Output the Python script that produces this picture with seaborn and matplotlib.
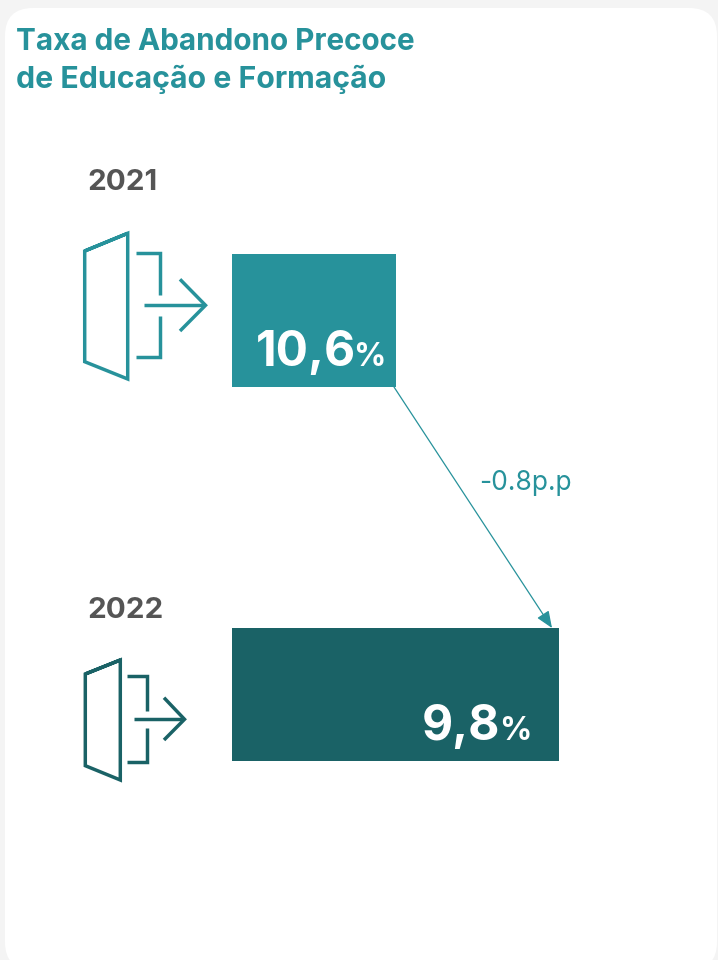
import matplotlib
matplotlib.use("Agg")
import matplotlib.pyplot as plt
from matplotlib.patches import FancyBboxPatch
import pandas as pd
import seaborn as sns

years = ["2021", "2022"]
rates = ["10,6", "9,8"]
bar_span = [1.0, 2.0]
bar_colors = ["#27929B", "#1A6266"]
title_lines = ["Taxa de Abandono Precoce", "de Educação e Formação"]
delta_label = "-0.8p.p"

FONT = ["Inter", "DejaVu Sans"]
W, H = 718, 960
sns.set_theme(style="white")
plt.rcParams["font.family"] = FONT

fig = plt.figure(figsize=(W / 100, H / 100), dpi=100, facecolor="#F4F4F4")

bg = fig.add_axes([0, 0, 1, 1], zorder=0)
bg.set_xlim(0, W)
bg.set_ylim(H, 0)
bg.axis("off")
bg.add_patch(FancyBboxPatch((5 + 28, 8 + 28), 712 - 56, 962 - 56,
                            boxstyle="round,pad=28,rounding_size=28",
                            fc="white", ec="none", clip_on=True))

# Bars: axes box 232..559 px across, 254..761 px down
ax = fig.add_axes([232 / W, 1 - 761 / H, 327 / W, 507 / H], zorder=1)
df = pd.DataFrame({"ano": years, "span": bar_span})
band = 133 / 374
sns.barplot(data=df, x="span", y="ano", hue="ano", palette=bar_colors,
            legend=False, orient="h", width=band, dodge=False, saturation=1,
            linewidth=0, ax=ax)
ax.set_xlim(0, 2)
ax.set_ylim(1 + band / 2, -band / 2)
ax.axis("off")
ax.patch.set_alpha(0)

ov = fig.add_axes([0, 0, 1, 1], zorder=2)
ov.set_xlim(0, W)
ov.set_ylim(H, 0)
ov.axis("off")
ov.patch.set_alpha(0)


def icon(door, top, bottom, shaft, head, color):
    kw = dict(color=color, lw=2.5, solid_joinstyle="miter", solid_capstyle="butt")
    for pts in (door + door[:2], top, bottom, shaft, head):
        xs, ys = zip(*pts)
        ov.plot(xs, ys, **kw)


icon([(84.7, 251), (127.7, 233.3), (127.7, 379), (84.7, 361.7)],
     [(135.7, 253.3), (160, 253.3), (160, 295)],
     [(135.7, 357), (160, 357), (160, 316)],
     [(144, 305.3), (204, 305.3)],
     [(180, 279.3), (205.5, 305.3), (180, 331)], bar_colors[0])
icon([(85.3, 674), (120.3, 660), (120.3, 780), (85.3, 765.7)],
     [(126.7, 676), (147.3, 676), (147.3, 710.7)],
     [(126.7, 762), (147.3, 762), (147.3, 727.7)],
     [(134, 719.3), (183, 719.3)],
     [(164, 697.7), (184.5, 719.3), (164, 740)], bar_colors[1])

# Title
for line, y, fs in zip(title_lines, (50, 88), (21.4, 21.8)):
    ov.text(16, y, line, color="#27929B", fontsize=fs, fontweight="bold",
            ha="left", va="baseline")

# Year labels
for yr, y in zip(years, (190, 618)):
    ov.text(87, y, yr, color="#555555", fontsize=21.3, fontweight="bold",
            ha="left", va="baseline")

# Value labels: number with smaller percent sign, right aligned
fig.canvas.draw()
rend = fig.canvas.get_renderer()
for val, right, base in zip(rates, (386, 531), (366, 740)):
    p = ov.text(right, base, "%", color="white", fontsize=23, fontweight="bold",
                ha="right", va="baseline")
    left = p.get_window_extent(rend).x0
    ov.text(left + 2, base, val, color="white", fontsize=34.5, fontweight="bold",
            ha="right", va="baseline")

# Change arrow
ov.annotate("", xy=(552, 628), xytext=(394, 387),
            arrowprops=dict(arrowstyle="-|>,head_length=0.85,head_width=0.35",
                            color="#27929B", lw=0.9, shrinkA=0, shrinkB=0))
ov.text(479, 490, delta_label, color="#27929B", fontsize=19, ha="left", va="baseline")

fig.savefig("out.png", dpi=100, facecolor=fig.get_facecolor())
